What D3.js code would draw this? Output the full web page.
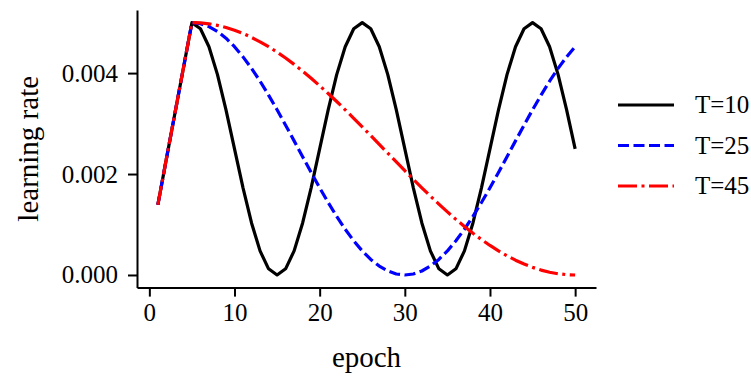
<!DOCTYPE html>
<html>

<head>
	<meta charset='utf-8' />
	<title></title>
	<script src="https://d3js.org/d3.v7.min.js"></script>
	<style>
		body {
			margin: 0;
			background: white;
		}

		svg {
			display: block;
		}

		svg text {
			font-family: "Liberation Serif", "DejaVu Serif", serif;
			fill: black;
		}
	</style>
</head>

<body>

	<svg id="chart" width="751" height="376"></svg>

	<script>
		// epochs 1..50
		var epochs = d3.range(1, 51);

		var seriesNames = ["T=10", "T=25", "T=45"];

		var lrT10 = [0.00139, 0.00230, 0.00320, 0.00410, 0.00500,
			0.004878, 0.004523, 0.003969, 0.003273, 0.0025, 0.001727, 0.001031, 0.000477, 0.000122, 0.0,
			0.000122, 0.000477, 0.001031, 0.001727, 0.0025, 0.003273, 0.003969, 0.004523, 0.004878, 0.005,
			0.004878, 0.004523, 0.003969, 0.003273, 0.0025, 0.001727, 0.001031, 0.000477, 0.000122, 0.0,
			0.000122, 0.000477, 0.001031, 0.001727, 0.0025, 0.003273, 0.003969, 0.004523, 0.004878, 0.005,
			0.004878, 0.004523, 0.003969, 0.003273, 0.0025];

		var lrT25 = [0.00139, 0.00230, 0.00320, 0.00410, 0.00500,
			0.004980, 0.004921, 0.004824, 0.004691, 0.004523, 0.004322, 0.004094, 0.003840, 0.003564, 0.003273,
			0.002968, 0.002657, 0.002343, 0.002032, 0.001727, 0.001436, 0.001160, 0.000906, 0.000678, 0.000477,
			0.000309, 0.000176, 0.000079, 0.000020, 0.0, 0.000020, 0.000079, 0.000176, 0.000309, 0.000477,
			0.000678, 0.000906, 0.001160, 0.001436, 0.001727, 0.002032, 0.002343, 0.002657, 0.002968, 0.003273,
			0.003564, 0.003840, 0.004094, 0.004322, 0.004523];

		var lrT45 = [0.00139, 0.00230, 0.00320, 0.00410, 0.00500,
			0.004994, 0.004976, 0.004945, 0.004903, 0.004849, 0.004784, 0.004707, 0.004620, 0.004523, 0.004415,
			0.004298, 0.004173, 0.004039, 0.003898, 0.003750, 0.003596, 0.003437, 0.003273, 0.003105, 0.002934,
			0.002761, 0.002587, 0.002413, 0.002239, 0.002066, 0.001895, 0.001727, 0.001563, 0.001404, 0.001250,
			0.001102, 0.000961, 0.000827, 0.000702, 0.000585, 0.000477, 0.000380, 0.000293, 0.000216, 0.000151,
			0.000097, 0.000055, 0.000024, 0.000006, 0.0];

		var xTicks = [0, 10, 20, 30, 40, 50];
		var yTicks = [0.000, 0.002, 0.004];

		var series = [
			{ name: seriesNames[0], values: lrT10, color: "#000000", dash: null },
			{ name: seriesNames[1], values: lrT25, color: "#0000ff", dash: "11,4.5" },
			{ name: seriesNames[2], values: lrT45, color: "#ff0000", dash: "19,4.5,3,4.5" }
		];

		var svg = d3.select("#chart"),
			margin = { top: 10, left: 137, bottom: 88.4, right: 155 },
			width = +svg.attr("width"),
			height = +svg.attr("height");

		// 5% padding like matplotlib
		var x = d3.scaleLinear()
			.domain([-1.45, 52.45])
			.range([margin.left, width - margin.right]);

		var y = d3.scaleLinear()
			.domain([-0.00025, 0.00525])
			.range([height - margin.bottom, margin.top]);

		var xAxis = svg.append("g")
			.attr("transform", `translate(0,${height - margin.bottom})`)
			.call(d3.axisBottom(x).tickValues(xTicks).tickSize(9).tickPadding(7).tickSizeOuter(0))

		var yAxis = svg.append("g")
			.attr("transform", `translate(${margin.left},0)`)
			.call(d3.axisLeft(y).tickValues(yTicks).tickFormat(d3.format(".3f")).tickSize(9).tickPadding(10).tickSizeOuter(0))

		svg.selectAll(".domain").attr("stroke", "black").attr("stroke-width", 2)
		svg.selectAll(".tick line").attr("stroke", "black").attr("stroke-width", 2)
		svg.selectAll(".tick text")
			.style("font-family", "'Liberation Serif', serif")
			.style("font-size", "25px")

		var line = d3.line()
			.x((d, i) => x(epochs[i]))
			.y(d => y(d));

		svg.selectAll(".series")
			.data(series)
			.enter().append("path")
			.attr("class", "series")
			.attr("fill", "none")
			.attr("stroke", d => d.color)
			.attr("stroke-width", 3.2)
			.attr("stroke-dasharray", d => d.dash)
			.attr("stroke-linejoin", "round")
			.attr("d", d => line(d.values))

		// axis titles
		svg.append("text")
			.attr("x", (margin.left + width - margin.right) / 2)
			.attr("y", 367)
			.attr("text-anchor", "middle")
			.style("font-size", "29px")
			.text("epoch")

		svg.append("text")
			.attr("transform", `translate(38,${(margin.top + height - margin.bottom) / 2}) rotate(-90)`)
			.attr("text-anchor", "middle")
			.style("font-size", "29px")
			.text("learning rate")

		var legend = svg.append("g")
			.selectAll("g")
			.data(series)
			.enter().append("g")
			.attr("transform", (d, i) => "translate(618," + (105 + i * 40.5) + ")");

		legend.append("line")
			.attr("x1", 0)
			.attr("x2", 56)
			.attr("stroke", d => d.color)
			.attr("stroke-width", 3.2)
			.attr("stroke-dasharray", d => d.dash)

		legend.append("text")
			.attr("x", 77)
			.attr("dy", "0.33em")
			.style("font-size", "25px")
			.text(d => d.name)
	</script>

</body>

</html>
